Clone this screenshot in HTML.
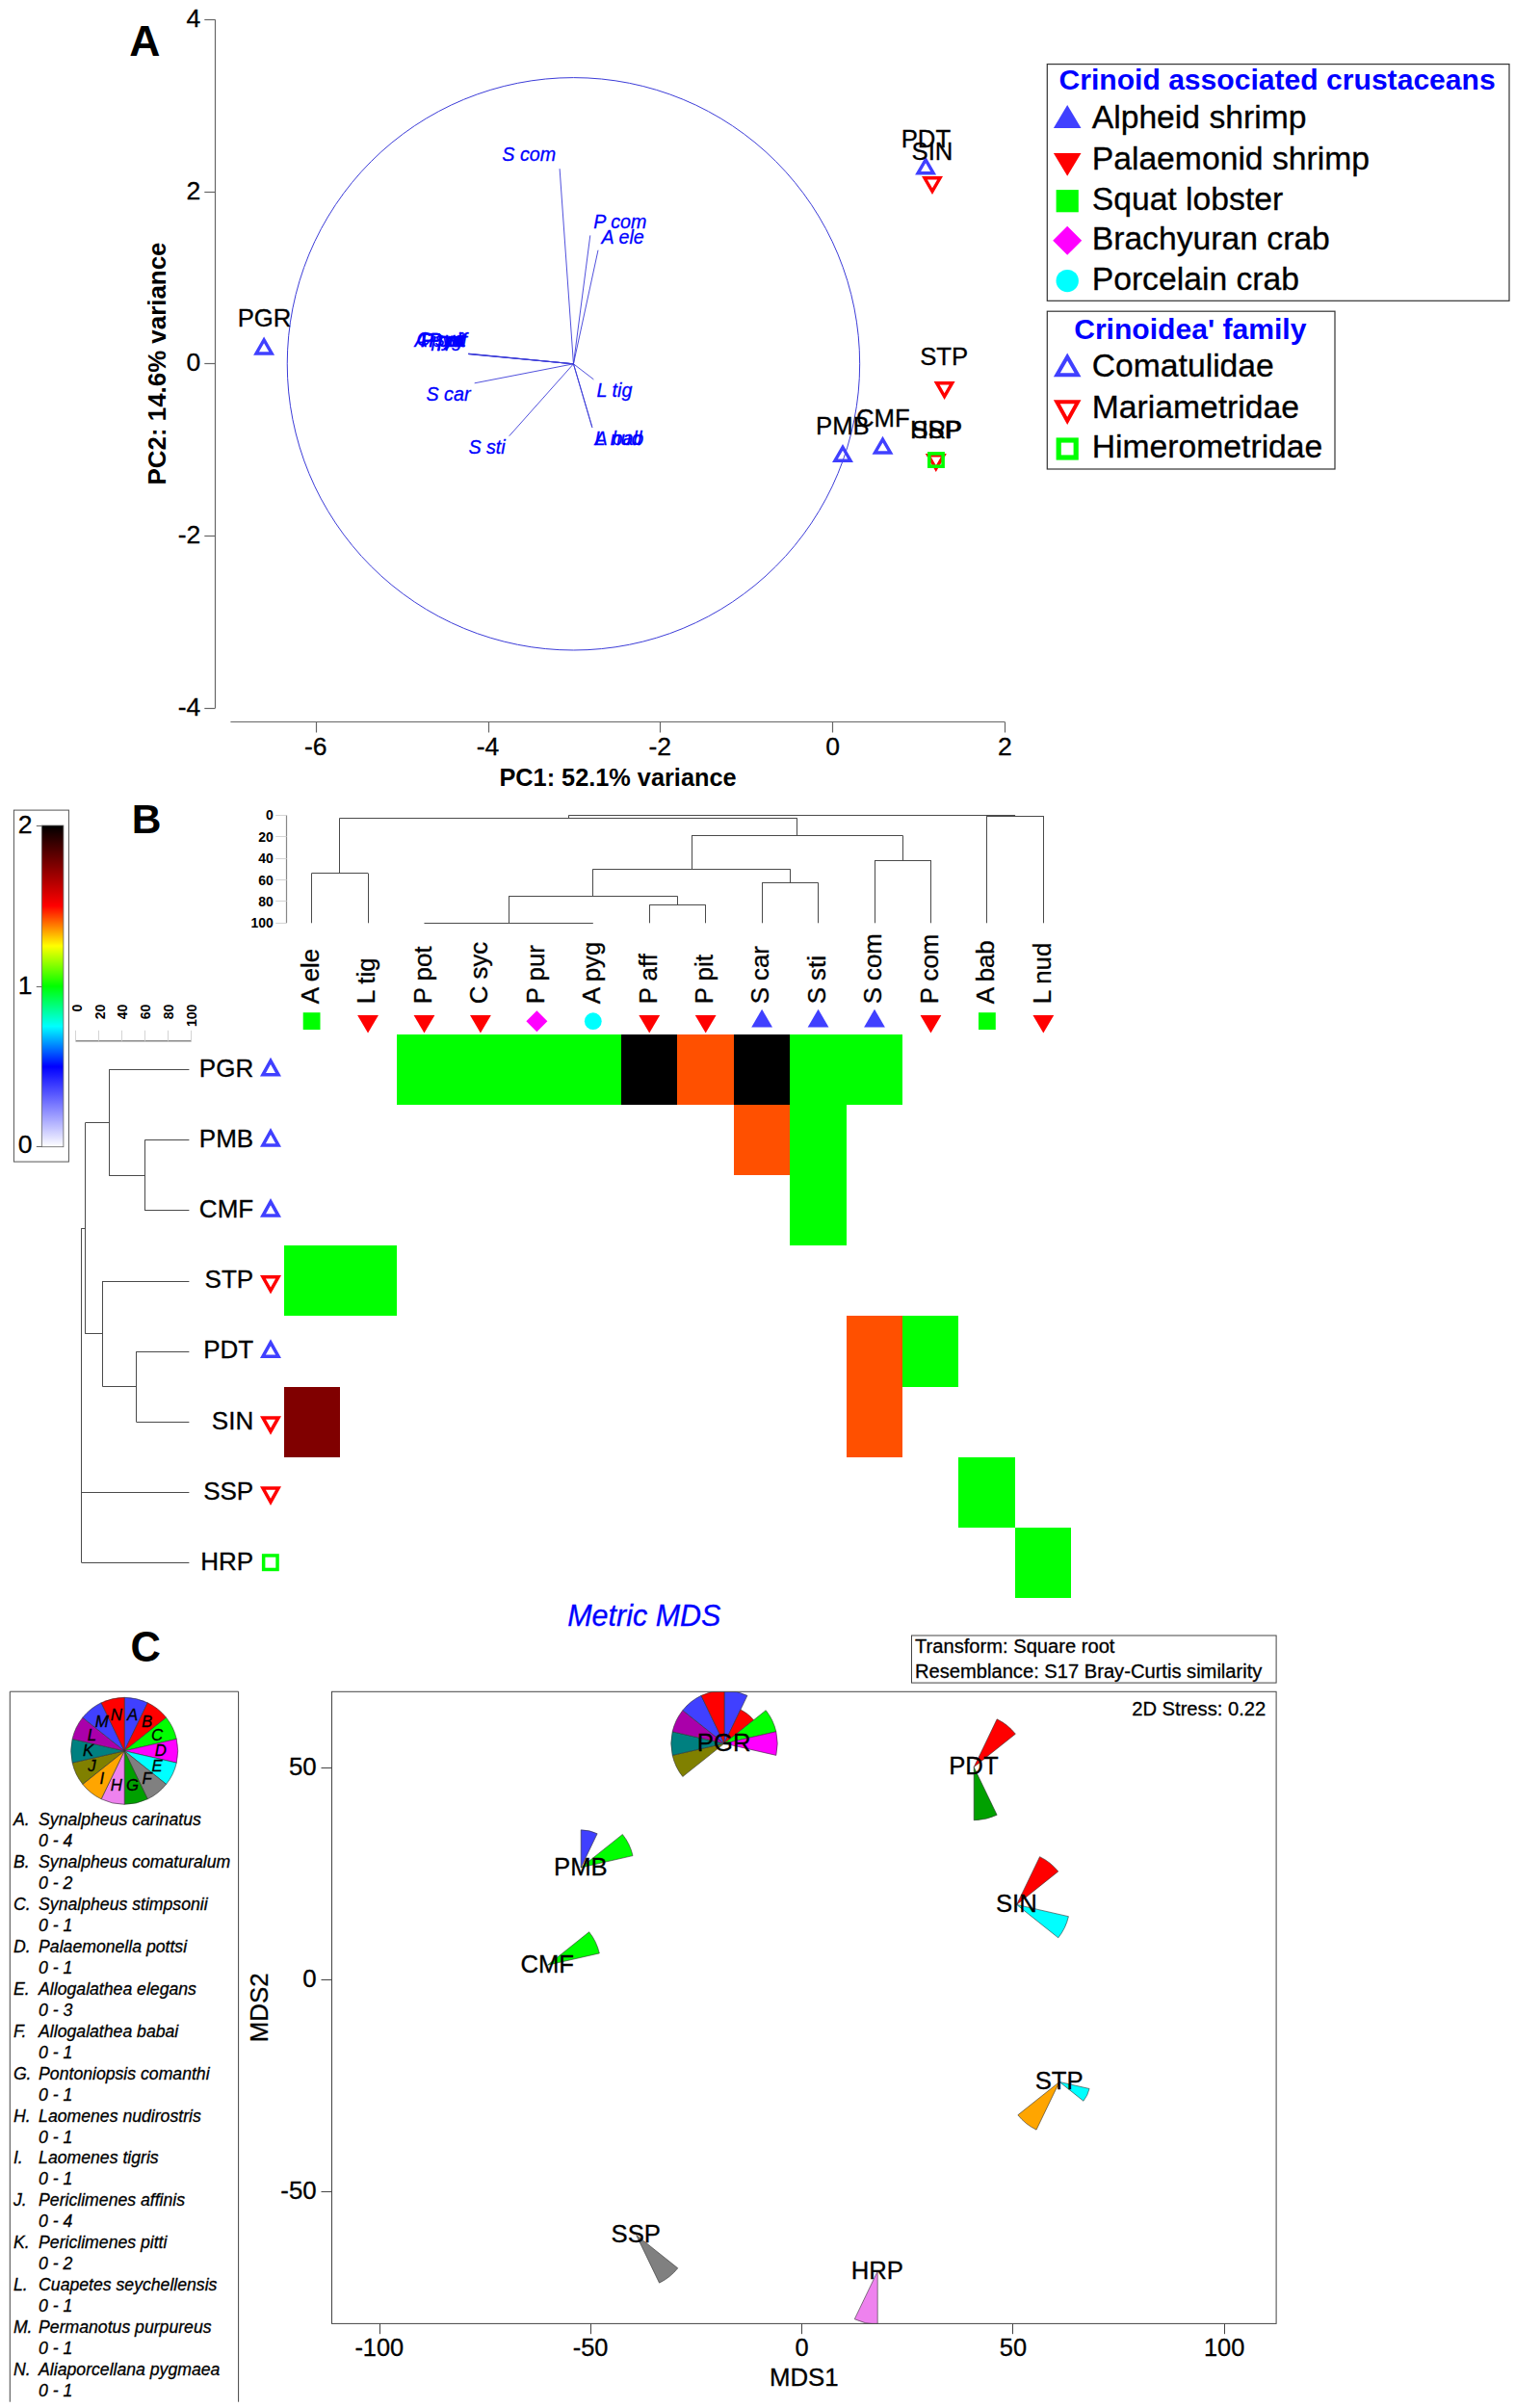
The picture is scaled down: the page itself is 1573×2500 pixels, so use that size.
<!DOCTYPE html>
<html lang="en"><head><meta charset="utf-8"><title>Crinoid associated crustaceans - PCA, heatmap and MDS</title>
<style>html,body{margin:0;padding:0;background:#fff}svg{display:block}text{white-space:pre}</style></head>
<body>
<svg width="1573" height="2500" viewBox="0 0 1573 2500" font-family='"Liberation Sans", Arial, Helvetica, sans-serif'>
<rect width="1573" height="2500" fill="#fff"/>
<g id="panelA">
<text x="134.20" y="57.80" font-size="44.5" font-weight="bold">A</text>
<line x1="223.50" y1="20.48" x2="223.50" y2="735.12" stroke="#666" stroke-width="1.2" />
<line x1="212.30" y1="20.50" x2="223.60" y2="20.50" stroke="#666" stroke-width="1.2" />
<text x="208.30" y="28.08" font-size="26.5" text-anchor="end" stroke="#000" stroke-width="0.3">4</text>
<line x1="212.30" y1="199.50" x2="223.60" y2="199.50" stroke="#666" stroke-width="1.2" />
<text x="208.30" y="206.74" font-size="26.5" text-anchor="end" stroke="#000" stroke-width="0.3">2</text>
<line x1="212.30" y1="377.50" x2="223.60" y2="377.50" stroke="#666" stroke-width="1.2" />
<text x="208.30" y="385.40" font-size="26.5" text-anchor="end" stroke="#000" stroke-width="0.3">0</text>
<line x1="212.30" y1="556.50" x2="223.60" y2="556.50" stroke="#666" stroke-width="1.2" />
<text x="208.30" y="564.06" font-size="26.5" text-anchor="end" stroke="#000" stroke-width="0.3">-2</text>
<line x1="212.30" y1="735.50" x2="223.60" y2="735.50" stroke="#666" stroke-width="1.2" />
<text x="208.30" y="742.72" font-size="26.5" text-anchor="end" stroke="#000" stroke-width="0.3">-4</text>
<line x1="239.40" y1="749.50" x2="1043.40" y2="749.50" stroke="#666" stroke-width="1.2" />
<line x1="328.50" y1="749.60" x2="328.50" y2="760.50" stroke="#666" stroke-width="1.2" />
<text x="327.70" y="783.60" font-size="26.5" text-anchor="middle" stroke="#000" stroke-width="0.3">-6</text>
<line x1="507.50" y1="749.60" x2="507.50" y2="760.50" stroke="#666" stroke-width="1.2" />
<text x="506.50" y="783.60" font-size="26.5" text-anchor="middle" stroke="#000" stroke-width="0.3">-4</text>
<line x1="685.50" y1="749.60" x2="685.50" y2="760.50" stroke="#666" stroke-width="1.2" />
<text x="685.30" y="783.60" font-size="26.5" text-anchor="middle" stroke="#000" stroke-width="0.3">-2</text>
<line x1="864.50" y1="749.60" x2="864.50" y2="760.50" stroke="#666" stroke-width="1.2" />
<text x="864.60" y="783.60" font-size="26.5" text-anchor="middle" stroke="#000" stroke-width="0.3">0</text>
<line x1="1043.50" y1="749.60" x2="1043.50" y2="760.50" stroke="#666" stroke-width="1.2" />
<text x="1043.40" y="783.60" font-size="26.5" text-anchor="middle" stroke="#000" stroke-width="0.3">2</text>
<text x="171.80" y="377.50" font-size="25.9" text-anchor="middle" font-weight="bold" transform="rotate(-90 171.80 377.50)">PC2: 14.6% variance</text>
<text x="641.50" y="815.80" font-size="25.3" text-anchor="middle" font-weight="bold">PC1: 52.1% variance</text>
<circle cx="595.45" cy="377.8" r="297.2" fill="none" stroke="#3c3cd8" stroke-width="1"/>
<line x1="595.45" y1="377.80" x2="581.10" y2="175.20" stroke="#3c3cd8" stroke-width="0.9" />
<line x1="595.45" y1="377.80" x2="612.80" y2="244.40" stroke="#3c3cd8" stroke-width="0.9" />
<line x1="595.45" y1="377.80" x2="621.00" y2="259.70" stroke="#3c3cd8" stroke-width="0.9" />
<line x1="595.45" y1="377.80" x2="486.30" y2="367.30" stroke="#3c3cd8" stroke-width="0.9" />
<line x1="595.45" y1="377.80" x2="492.70" y2="397.80" stroke="#3c3cd8" stroke-width="0.9" />
<line x1="595.45" y1="377.80" x2="528.70" y2="452.70" stroke="#3c3cd8" stroke-width="0.9" />
<line x1="595.45" y1="377.80" x2="616.40" y2="393.90" stroke="#3c3cd8" stroke-width="0.9" />
<line x1="595.45" y1="377.80" x2="614.90" y2="443.80" stroke="#3c3cd8" stroke-width="0.9" />
<line x1="595.45" y1="377.80" x2="614.90" y2="443.80" stroke="#3c3cd8" stroke-width="0.9" />
<line x1="595.45" y1="377.80" x2="486.30" y2="367.50" stroke="#3c3cd8" stroke-width="0.9" />
<line x1="595.45" y1="377.80" x2="486.30" y2="367.70" stroke="#3c3cd8" stroke-width="0.9" />
<line x1="595.45" y1="377.80" x2="486.30" y2="367.10" stroke="#3c3cd8" stroke-width="0.9" />
<text x="521.30" y="167.30" font-size="19.7" font-style="italic" fill="#0000ff" stroke="#0000ff" stroke-width="0.3">S com</text>
<text x="616.30" y="237.30" font-size="19.7" font-style="italic" fill="#0000ff" stroke="#0000ff" stroke-width="0.3">P com</text>
<text x="624.60" y="252.60" font-size="19.7" font-style="italic" fill="#0000ff" stroke="#0000ff" stroke-width="0.3">A ele</text>
<text x="442.50" y="416.00" font-size="19.7" font-style="italic" fill="#0000ff" stroke="#0000ff" stroke-width="0.3">S car</text>
<text x="486.40" y="471.00" font-size="19.7" font-style="italic" fill="#0000ff" stroke="#0000ff" stroke-width="0.3">S sti</text>
<text x="619.50" y="411.70" font-size="19.7" font-style="italic" fill="#0000ff" stroke="#0000ff" stroke-width="0.3">L tig</text>
<text x="617.60" y="461.60" font-size="19.7" font-style="italic" fill="#0000ff" stroke="#0000ff" stroke-width="0.3">A bab</text>
<text x="617.60" y="461.60" font-size="19.7" font-style="italic" fill="#0000ff" stroke="#0000ff" stroke-width="0.3">L nud</text>
<text x="482.40" y="360.00" font-size="19.7" text-anchor="end" font-style="italic" fill="#0000ff" stroke="#0000ff" stroke-width="0.3">P pot</text>
<text x="481.60" y="359.40" font-size="19.7" text-anchor="end" font-style="italic" fill="#0000ff" stroke="#0000ff" stroke-width="0.3">C syc</text>
<text x="483.00" y="359.70" font-size="19.7" text-anchor="end" font-style="italic" fill="#0000ff" stroke="#0000ff" stroke-width="0.3">P pur</text>
<text x="480.00" y="359.90" font-size="19.7" text-anchor="end" font-style="italic" fill="#0000ff" stroke="#0000ff" stroke-width="0.3">A pyg</text>
<text x="483.80" y="359.50" font-size="19.7" text-anchor="end" font-style="italic" fill="#0000ff" stroke="#0000ff" stroke-width="0.3">P pit</text>
<text x="485.00" y="359.70" font-size="19.7" text-anchor="end" font-style="italic" fill="#0000ff" stroke="#0000ff" stroke-width="0.3">P aff</text>
<text x="274.50" y="339.40" font-size="25.7" text-anchor="middle" stroke="#000" stroke-width="0.3">PGR</text>
<path d="M266.04 367.00L282.16 367.00L274.10 353.01Z" stroke="#4040ff" stroke-width="3.4" fill="none" stroke-linejoin="miter"/>
<text x="961.40" y="152.90" font-size="25.7" text-anchor="middle" stroke="#000" stroke-width="0.3">PDT</text>
<path d="M953.06 179.80L969.14 179.80L961.10 165.98Z" stroke="#4040ff" stroke-width="3.4" fill="none" stroke-linejoin="miter"/>
<path d="M959.96 184.80L976.04 184.80L968.00 198.62Z" stroke="#ff0000" stroke-width="3.4" fill="none" stroke-linejoin="miter"/>
<text x="968.00" y="166.30" font-size="25.7" text-anchor="middle" stroke="#000" stroke-width="0.3">SIN</text>
<text x="980.20" y="379.30" font-size="25.7" text-anchor="middle" stroke="#000" stroke-width="0.3">STP</text>
<path d="M972.55 397.70L988.65 397.70L980.60 411.61Z" stroke="#ff0000" stroke-width="3.4" fill="none" stroke-linejoin="miter"/>
<text x="874.90" y="451.10" font-size="25.7" text-anchor="middle" stroke="#000" stroke-width="0.3">PMB</text>
<path d="M866.96 478.20L883.04 478.20L875.00 464.38Z" stroke="#4040ff" stroke-width="3.4" fill="none" stroke-linejoin="miter"/>
<text x="916.80" y="442.80" font-size="25.7" text-anchor="middle" stroke="#000" stroke-width="0.3">CMF</text>
<path d="M908.46 470.00L924.54 470.00L916.50 456.18Z" stroke="#4040ff" stroke-width="3.4" fill="none" stroke-linejoin="miter"/>
<path d="M963.75 472.70L979.85 472.70L971.80 486.61Z" stroke="#ff0000" stroke-width="3.4" fill="none" stroke-linejoin="miter"/>
<rect x="964.80" y="470.90" width="14.30" height="13.30" fill="none" stroke="#00ff00" stroke-width="3.6" />
<text x="972.10" y="455.20" font-size="25.7" text-anchor="middle" stroke="#000" stroke-width="0.3">SSP</text>
<text x="972.10" y="455.20" font-size="25.7" text-anchor="middle" stroke="#000" stroke-width="0.3">HRP</text>
<rect x="1087.30" y="66.60" width="479.70" height="245.70" fill="none" stroke="#333" stroke-width="1.2" />
<text x="1326.10" y="93.20" font-size="30.1" text-anchor="middle" font-weight="bold" fill="#0000ff">Crinoid associated crustaceans</text>
<text x="1133.70" y="133.00" font-size="33.7" stroke="#000" stroke-width="0.3">Alpheid shrimp</text>
<text x="1133.70" y="175.50" font-size="33.7" stroke="#000" stroke-width="0.3">Palaemonid shrimp</text>
<text x="1133.70" y="217.70" font-size="33.7" stroke="#000" stroke-width="0.3">Squat lobster</text>
<text x="1133.70" y="259.20" font-size="33.7" stroke="#000" stroke-width="0.3">Brachyuran crab</text>
<text x="1133.70" y="300.70" font-size="33.7" stroke="#000" stroke-width="0.3">Porcelain crab</text>
<path d="M1093.90 133.00L1122.50 133.00L1108.20 109.10Z" stroke="none" stroke-width="1" fill="#4040ff" />
<path d="M1093.90 158.90L1122.50 158.90L1108.20 182.80Z" stroke="none" stroke-width="1" fill="#ff0000" />
<rect x="1096.60" y="197.10" width="23.20" height="23.20" fill="#00ff00" stroke="none" stroke-width="1" />
<path d="M1093.20 249.80L1108.20 234.80L1123.20 249.80L1108.20 264.80Z" stroke="none" stroke-width="1" fill="#ff00ff" />
<circle cx="1108.2" cy="291.6" r="11.7" fill="#00ffff"/>
<rect x="1087.30" y="323.20" width="298.70" height="163.80" fill="none" stroke="#333" stroke-width="1.2" />
<text x="1235.80" y="351.50" font-size="30.1" text-anchor="middle" font-weight="bold" fill="#0000ff">Crinoidea' family</text>
<text x="1133.70" y="391.30" font-size="33.7" stroke="#000" stroke-width="0.3">Comatulidae</text>
<text x="1133.70" y="433.50" font-size="33.7" stroke="#000" stroke-width="0.3">Mariametridae</text>
<text x="1133.70" y="475.00" font-size="33.7" stroke="#000" stroke-width="0.3">Himerometridae</text>
<path d="M1097.35 389.30L1119.05 389.30L1108.20 370.42Z" stroke="#4040ff" stroke-width="4" fill="none" stroke-linejoin="miter"/>
<path d="M1097.29 417.20L1119.11 417.20L1108.20 436.96Z" stroke="#ff0000" stroke-width="4" fill="none" stroke-linejoin="miter"/>
<rect x="1099.20" y="457.00" width="18.00" height="18.00" fill="none" stroke="#00ff00" stroke-width="5.2" />
</g>
<g id="panelB">
<text x="136.80" y="865.40" font-size="42.5" font-weight="bold">B</text>
<defs><linearGradient id="cb" x1="0" y1="0" x2="0" y2="1"><stop offset="0" stop-color="#000000"/><stop offset="0.25" stop-color="#ff0000"/><stop offset="0.375" stop-color="#ffff00"/><stop offset="0.5" stop-color="#00ff00"/><stop offset="0.625" stop-color="#00ffff"/><stop offset="0.75" stop-color="#0000ff"/><stop offset="1" stop-color="#ffffff"/></linearGradient></defs>
<rect x="14.40" y="841.10" width="57.00" height="365.00" fill="none" stroke="#555" stroke-width="1" />
<rect x="43.30" y="857.00" width="22.60" height="333.70" fill="url(#cb)" stroke="#666" stroke-width="0.8" />
<line x1="37.80" y1="857.50" x2="43.30" y2="857.50" stroke="#666" stroke-width="1" />
<text x="33.60" y="864.60" font-size="26.5" text-anchor="end" stroke="#000" stroke-width="0.3">2</text>
<line x1="37.80" y1="1024.50" x2="43.30" y2="1024.50" stroke="#666" stroke-width="1" />
<text x="33.60" y="1031.60" font-size="26.5" text-anchor="end" stroke="#000" stroke-width="0.3">1</text>
<line x1="37.80" y1="1190.50" x2="43.30" y2="1190.50" stroke="#666" stroke-width="1" />
<text x="33.60" y="1197.30" font-size="26.5" text-anchor="end" stroke="#000" stroke-width="0.3">0</text>
<rect x="412.00" y="1074.00" width="58.00" height="73.00" fill="#00ff00" stroke="none" stroke-width="1" shape-rendering="crispEdges"/>
<rect x="470.00" y="1074.00" width="58.00" height="73.00" fill="#00ff00" stroke="none" stroke-width="1" shape-rendering="crispEdges"/>
<rect x="528.00" y="1074.00" width="59.00" height="73.00" fill="#00ff00" stroke="none" stroke-width="1" shape-rendering="crispEdges"/>
<rect x="587.00" y="1074.00" width="58.00" height="73.00" fill="#00ff00" stroke="none" stroke-width="1" shape-rendering="crispEdges"/>
<rect x="645.00" y="1074.00" width="58.00" height="73.00" fill="#000000" stroke="none" stroke-width="1" shape-rendering="crispEdges"/>
<rect x="703.00" y="1074.00" width="59.00" height="73.00" fill="#ff5000" stroke="none" stroke-width="1" shape-rendering="crispEdges"/>
<rect x="762.00" y="1074.00" width="58.00" height="73.00" fill="#000000" stroke="none" stroke-width="1" shape-rendering="crispEdges"/>
<rect x="820.00" y="1074.00" width="59.00" height="73.00" fill="#00ff00" stroke="none" stroke-width="1" shape-rendering="crispEdges"/>
<rect x="879.00" y="1074.00" width="58.00" height="73.00" fill="#00ff00" stroke="none" stroke-width="1" shape-rendering="crispEdges"/>
<rect x="762.00" y="1147.00" width="58.00" height="73.00" fill="#ff5000" stroke="none" stroke-width="1" shape-rendering="crispEdges"/>
<rect x="820.00" y="1147.00" width="59.00" height="73.00" fill="#00ff00" stroke="none" stroke-width="1" shape-rendering="crispEdges"/>
<rect x="820.00" y="1220.00" width="59.00" height="73.00" fill="#00ff00" stroke="none" stroke-width="1" shape-rendering="crispEdges"/>
<rect x="295.00" y="1293.00" width="58.00" height="73.00" fill="#00ff00" stroke="none" stroke-width="1" shape-rendering="crispEdges"/>
<rect x="353.00" y="1293.00" width="59.00" height="73.00" fill="#00ff00" stroke="none" stroke-width="1" shape-rendering="crispEdges"/>
<rect x="879.00" y="1366.00" width="58.00" height="74.00" fill="#ff5000" stroke="none" stroke-width="1" shape-rendering="crispEdges"/>
<rect x="937.00" y="1366.00" width="58.00" height="74.00" fill="#00ff00" stroke="none" stroke-width="1" shape-rendering="crispEdges"/>
<rect x="295.00" y="1440.00" width="58.00" height="73.00" fill="#800000" stroke="none" stroke-width="1" shape-rendering="crispEdges"/>
<rect x="879.00" y="1440.00" width="58.00" height="73.00" fill="#ff5000" stroke="none" stroke-width="1" shape-rendering="crispEdges"/>
<rect x="995.00" y="1513.00" width="59.00" height="73.00" fill="#00ff00" stroke="none" stroke-width="1" shape-rendering="crispEdges"/>
<rect x="1054.00" y="1586.00" width="58.00" height="73.00" fill="#00ff00" stroke="none" stroke-width="1" shape-rendering="crispEdges"/>
<line x1="297.50" y1="846.30" x2="297.50" y2="958.30" stroke="#888" stroke-width="1.2" />
<line x1="286.20" y1="846.50" x2="297.60" y2="846.50" stroke="#d4d4d4" stroke-width="1" />
<text x="283.80" y="851.30" font-size="14" text-anchor="end" font-weight="bold">0</text>
<line x1="286.20" y1="868.50" x2="297.60" y2="868.50" stroke="#d4d4d4" stroke-width="1" />
<text x="283.80" y="873.70" font-size="14" text-anchor="end" font-weight="bold">20</text>
<line x1="286.20" y1="891.50" x2="297.60" y2="891.50" stroke="#d4d4d4" stroke-width="1" />
<text x="283.80" y="896.10" font-size="14" text-anchor="end" font-weight="bold">40</text>
<line x1="286.20" y1="913.50" x2="297.60" y2="913.50" stroke="#d4d4d4" stroke-width="1" />
<text x="283.80" y="918.50" font-size="14" text-anchor="end" font-weight="bold">60</text>
<line x1="286.20" y1="935.50" x2="297.60" y2="935.50" stroke="#d4d4d4" stroke-width="1" />
<text x="283.80" y="940.90" font-size="14" text-anchor="end" font-weight="bold">80</text>
<line x1="286.20" y1="958.50" x2="297.60" y2="958.50" stroke="#d4d4d4" stroke-width="1" />
<text x="283.80" y="963.30" font-size="14" text-anchor="end" font-weight="bold">100</text>
<line x1="323.50" y1="958.30" x2="323.50" y2="906.60" stroke="#4a4a4a" stroke-width="1" />
<line x1="382.50" y1="958.30" x2="382.50" y2="906.60" stroke="#4a4a4a" stroke-width="1" />
<line x1="323.60" y1="906.50" x2="382.04" y2="906.50" stroke="#4a4a4a" stroke-width="1" />
<line x1="440.48" y1="958.50" x2="615.80" y2="958.50" stroke="#4a4a4a" stroke-width="1" />
<line x1="674.50" y1="958.30" x2="674.50" y2="939.30" stroke="#4a4a4a" stroke-width="1" />
<line x1="732.50" y1="958.30" x2="732.50" y2="939.30" stroke="#4a4a4a" stroke-width="1" />
<line x1="674.24" y1="939.50" x2="732.68" y2="939.50" stroke="#4a4a4a" stroke-width="1" />
<line x1="528.50" y1="958.30" x2="528.50" y2="930.40" stroke="#4a4a4a" stroke-width="1" />
<line x1="703.50" y1="939.30" x2="703.50" y2="930.40" stroke="#4a4a4a" stroke-width="1" />
<line x1="528.14" y1="930.50" x2="703.46" y2="930.50" stroke="#4a4a4a" stroke-width="1" />
<line x1="791.50" y1="958.30" x2="791.50" y2="916.40" stroke="#4a4a4a" stroke-width="1" />
<line x1="849.50" y1="958.30" x2="849.50" y2="916.40" stroke="#4a4a4a" stroke-width="1" />
<line x1="791.12" y1="916.50" x2="849.56" y2="916.50" stroke="#4a4a4a" stroke-width="1" />
<line x1="615.50" y1="930.40" x2="615.50" y2="902.20" stroke="#4a4a4a" stroke-width="1" />
<line x1="820.50" y1="916.40" x2="820.50" y2="902.20" stroke="#4a4a4a" stroke-width="1" />
<line x1="615.80" y1="902.50" x2="820.34" y2="902.50" stroke="#4a4a4a" stroke-width="1" />
<line x1="908.50" y1="958.30" x2="908.50" y2="893.00" stroke="#4a4a4a" stroke-width="1" />
<line x1="966.50" y1="958.30" x2="966.50" y2="893.00" stroke="#4a4a4a" stroke-width="1" />
<line x1="908.00" y1="893.50" x2="966.44" y2="893.50" stroke="#4a4a4a" stroke-width="1" />
<line x1="718.50" y1="902.20" x2="718.50" y2="867.40" stroke="#4a4a4a" stroke-width="1" />
<line x1="937.50" y1="893.00" x2="937.50" y2="867.40" stroke="#4a4a4a" stroke-width="1" />
<line x1="718.07" y1="867.50" x2="937.22" y2="867.50" stroke="#4a4a4a" stroke-width="1" />
<line x1="352.50" y1="906.60" x2="352.50" y2="849.30" stroke="#4a4a4a" stroke-width="1" />
<line x1="827.50" y1="867.40" x2="827.50" y2="849.30" stroke="#4a4a4a" stroke-width="1" />
<line x1="352.82" y1="849.50" x2="827.64" y2="849.50" stroke="#4a4a4a" stroke-width="1" />
<line x1="1024.50" y1="958.30" x2="1024.50" y2="847.10" stroke="#4a4a4a" stroke-width="1" />
<line x1="1083.50" y1="958.30" x2="1083.50" y2="847.10" stroke="#4a4a4a" stroke-width="1" />
<line x1="1024.88" y1="847.50" x2="1083.32" y2="847.50" stroke="#4a4a4a" stroke-width="1" />
<line x1="590.50" y1="849.30" x2="590.50" y2="846.80" stroke="#4a4a4a" stroke-width="1" />
<line x1="590.23" y1="846.50" x2="1054.10" y2="846.50" stroke="#4a4a4a" stroke-width="1" />
<text x="330.90" y="1042.30" font-size="25.8" transform="rotate(-90 330.90 1042.30)" stroke="#000" stroke-width="0.3">A ele</text>
<rect x="314.70" y="1051.20" width="17.80" height="17.80" fill="#00ff00" stroke="none" stroke-width="1" />
<text x="389.34" y="1042.30" font-size="25.8" transform="rotate(-90 389.34 1042.30)" stroke="#000" stroke-width="0.3">L tig</text>
<path d="M371.14 1054.10L392.94 1054.10L382.04 1072.60Z" stroke="none" stroke-width="1" fill="#ff0000" />
<text x="447.78" y="1042.30" font-size="25.8" transform="rotate(-90 447.78 1042.30)" stroke="#000" stroke-width="0.3">P pot</text>
<path d="M429.58 1054.10L451.38 1054.10L440.48 1072.60Z" stroke="none" stroke-width="1" fill="#ff0000" />
<text x="506.22" y="1042.30" font-size="25.8" transform="rotate(-90 506.22 1042.30)" stroke="#000" stroke-width="0.3">C syc</text>
<path d="M488.02 1054.10L509.82 1054.10L498.92 1072.60Z" stroke="none" stroke-width="1" fill="#ff0000" />
<text x="564.66" y="1042.30" font-size="25.8" transform="rotate(-90 564.66 1042.30)" stroke="#000" stroke-width="0.3">P pur</text>
<path d="M546.36 1060.20L557.36 1049.20L568.36 1060.20L557.36 1071.20Z" stroke="none" stroke-width="1" fill="#ff00ff" />
<text x="623.10" y="1042.30" font-size="25.8" transform="rotate(-90 623.10 1042.30)" stroke="#000" stroke-width="0.3">A pyg</text>
<circle cx="615.80" cy="1060.2" r="8.9" fill="#00ffff"/>
<text x="681.54" y="1042.30" font-size="25.8" transform="rotate(-90 681.54 1042.30)" stroke="#000" stroke-width="0.3">P aff</text>
<path d="M663.34 1054.10L685.14 1054.10L674.24 1072.60Z" stroke="none" stroke-width="1" fill="#ff0000" />
<text x="739.98" y="1042.30" font-size="25.8" transform="rotate(-90 739.98 1042.30)" stroke="#000" stroke-width="0.3">P pit</text>
<path d="M721.78 1054.10L743.58 1054.10L732.68 1072.60Z" stroke="none" stroke-width="1" fill="#ff0000" />
<text x="798.42" y="1042.30" font-size="25.8" transform="rotate(-90 798.42 1042.30)" stroke="#000" stroke-width="0.3">S car</text>
<path d="M780.22 1066.60L802.02 1066.60L791.12 1047.80Z" stroke="none" stroke-width="1" fill="#4040ff" />
<text x="856.86" y="1042.30" font-size="25.8" transform="rotate(-90 856.86 1042.30)" stroke="#000" stroke-width="0.3">S sti</text>
<path d="M838.66 1066.60L860.46 1066.60L849.56 1047.80Z" stroke="none" stroke-width="1" fill="#4040ff" />
<text x="915.30" y="1042.30" font-size="25.8" transform="rotate(-90 915.30 1042.30)" stroke="#000" stroke-width="0.3">S com</text>
<path d="M897.10 1066.60L918.90 1066.60L908.00 1047.80Z" stroke="none" stroke-width="1" fill="#4040ff" />
<text x="973.74" y="1042.30" font-size="25.8" transform="rotate(-90 973.74 1042.30)" stroke="#000" stroke-width="0.3">P com</text>
<path d="M955.54 1054.10L977.34 1054.10L966.44 1072.60Z" stroke="none" stroke-width="1" fill="#ff0000" />
<text x="1032.18" y="1042.30" font-size="25.8" transform="rotate(-90 1032.18 1042.30)" stroke="#000" stroke-width="0.3">A bab</text>
<rect x="1015.98" y="1051.20" width="17.80" height="17.80" fill="#00ff00" stroke="none" stroke-width="1" />
<text x="1090.62" y="1042.30" font-size="25.8" transform="rotate(-90 1090.62 1042.30)" stroke="#000" stroke-width="0.3">L nud</text>
<path d="M1072.42 1054.10L1094.22 1054.10L1083.32 1072.60Z" stroke="none" stroke-width="1" fill="#ff0000" />
<line x1="78.40" y1="1080.70" x2="198.70" y2="1080.70" stroke="#888" stroke-width="1.6" />
<line x1="78.50" y1="1069.80" x2="78.50" y2="1080.70" stroke="#d4d4d4" stroke-width="1" />
<text x="84.70" y="1042.60" font-size="14" text-anchor="end" font-weight="bold" transform="rotate(-90 84.70 1042.60)">0</text>
<line x1="102.50" y1="1069.80" x2="102.50" y2="1080.70" stroke="#d4d4d4" stroke-width="1" />
<text x="108.56" y="1042.60" font-size="14" text-anchor="end" font-weight="bold" transform="rotate(-90 108.56 1042.60)">20</text>
<line x1="126.50" y1="1069.80" x2="126.50" y2="1080.70" stroke="#d4d4d4" stroke-width="1" />
<text x="132.42" y="1042.60" font-size="14" text-anchor="end" font-weight="bold" transform="rotate(-90 132.42 1042.60)">40</text>
<line x1="150.50" y1="1069.80" x2="150.50" y2="1080.70" stroke="#d4d4d4" stroke-width="1" />
<text x="156.28" y="1042.60" font-size="14" text-anchor="end" font-weight="bold" transform="rotate(-90 156.28 1042.60)">60</text>
<line x1="174.50" y1="1069.80" x2="174.50" y2="1080.70" stroke="#d4d4d4" stroke-width="1" />
<text x="180.14" y="1042.60" font-size="14" text-anchor="end" font-weight="bold" transform="rotate(-90 180.14 1042.60)">80</text>
<line x1="198.50" y1="1069.80" x2="198.50" y2="1080.70" stroke="#d4d4d4" stroke-width="1" />
<text x="204.00" y="1042.60" font-size="14" text-anchor="end" font-weight="bold" transform="rotate(-90 204.00 1042.60)">100</text>
<line x1="150.20" y1="1183.50" x2="196.40" y2="1183.50" stroke="#4a4a4a" stroke-width="1" />
<line x1="150.20" y1="1256.50" x2="196.40" y2="1256.50" stroke="#4a4a4a" stroke-width="1" />
<line x1="150.50" y1="1183.80" x2="150.50" y2="1256.90" stroke="#4a4a4a" stroke-width="1" />
<line x1="113.10" y1="1110.50" x2="196.40" y2="1110.50" stroke="#4a4a4a" stroke-width="1" />
<line x1="113.10" y1="1220.50" x2="150.20" y2="1220.50" stroke="#4a4a4a" stroke-width="1" />
<line x1="113.50" y1="1110.70" x2="113.50" y2="1220.35" stroke="#4a4a4a" stroke-width="1" />
<line x1="141.50" y1="1403.50" x2="196.40" y2="1403.50" stroke="#4a4a4a" stroke-width="1" />
<line x1="141.50" y1="1476.50" x2="196.40" y2="1476.50" stroke="#4a4a4a" stroke-width="1" />
<line x1="141.50" y1="1403.10" x2="141.50" y2="1476.20" stroke="#4a4a4a" stroke-width="1" />
<line x1="106.60" y1="1330.50" x2="196.40" y2="1330.50" stroke="#4a4a4a" stroke-width="1" />
<line x1="106.60" y1="1439.50" x2="141.50" y2="1439.50" stroke="#4a4a4a" stroke-width="1" />
<line x1="106.50" y1="1330.00" x2="106.50" y2="1439.65" stroke="#4a4a4a" stroke-width="1" />
<line x1="88.70" y1="1165.50" x2="113.10" y2="1165.50" stroke="#4a4a4a" stroke-width="1" />
<line x1="88.70" y1="1384.50" x2="106.60" y2="1384.50" stroke="#4a4a4a" stroke-width="1" />
<line x1="88.50" y1="1165.53" x2="88.50" y2="1384.83" stroke="#4a4a4a" stroke-width="1" />
<line x1="84.50" y1="1275.50" x2="88.70" y2="1275.50" stroke="#4a4a4a" stroke-width="1" />
<line x1="84.50" y1="1549.50" x2="196.40" y2="1549.50" stroke="#4a4a4a" stroke-width="1" />
<line x1="84.50" y1="1275.18" x2="84.50" y2="1549.30" stroke="#4a4a4a" stroke-width="1" />
<line x1="84.50" y1="1412.24" x2="84.50" y2="1622.40" stroke="#4a4a4a" stroke-width="1" />
<line x1="84.70" y1="1622.50" x2="196.40" y2="1622.50" stroke="#4a4a4a" stroke-width="1" />
<text x="263.20" y="1118.00" font-size="26.0" text-anchor="end" stroke="#000" stroke-width="0.3">PGR</text>
<path d="M272.97 1115.85L289.03 1115.85L281.00 1101.40Z" stroke="#4040ff" stroke-width="3.5" fill="none" stroke-linejoin="miter"/>
<text x="263.20" y="1191.10" font-size="26.0" text-anchor="end" stroke="#000" stroke-width="0.3">PMB</text>
<path d="M272.97 1188.95L289.03 1188.95L281.00 1174.50Z" stroke="#4040ff" stroke-width="3.5" fill="none" stroke-linejoin="miter"/>
<text x="263.20" y="1264.20" font-size="26.0" text-anchor="end" stroke="#000" stroke-width="0.3">CMF</text>
<path d="M272.97 1262.05L289.03 1262.05L281.00 1247.60Z" stroke="#4040ff" stroke-width="3.5" fill="none" stroke-linejoin="miter"/>
<text x="263.20" y="1337.30" font-size="26.0" text-anchor="end" stroke="#000" stroke-width="0.3">STP</text>
<path d="M272.99 1325.75L289.01 1325.75L281.00 1340.02Z" stroke="#ff0000" stroke-width="3.5" fill="none" stroke-linejoin="miter"/>
<text x="263.20" y="1410.40" font-size="26.0" text-anchor="end" stroke="#000" stroke-width="0.3">PDT</text>
<path d="M272.97 1408.25L289.03 1408.25L281.00 1393.80Z" stroke="#4040ff" stroke-width="3.5" fill="none" stroke-linejoin="miter"/>
<text x="263.20" y="1483.50" font-size="26.0" text-anchor="end" stroke="#000" stroke-width="0.3">SIN</text>
<path d="M272.99 1471.95L289.01 1471.95L281.00 1486.22Z" stroke="#ff0000" stroke-width="3.5" fill="none" stroke-linejoin="miter"/>
<text x="263.20" y="1556.60" font-size="26.0" text-anchor="end" stroke="#000" stroke-width="0.3">SSP</text>
<path d="M272.99 1545.05L289.01 1545.05L281.00 1559.32Z" stroke="#ff0000" stroke-width="3.5" fill="none" stroke-linejoin="miter"/>
<text x="263.20" y="1629.70" font-size="26.0" text-anchor="end" stroke="#000" stroke-width="0.3">HRP</text>
<rect x="273.65" y="1614.95" width="14.40" height="14.50" fill="none" stroke="#00ff00" stroke-width="3.5" />
</g>
<g id="panelC">
<text x="135.40" y="1724.60" font-size="43.5" font-weight="bold">C</text>
<text x="668.80" y="1687.50" font-size="30.5" text-anchor="middle" font-style="italic" fill="#0000ff" stroke="#0000ff" stroke-width="0.3">Metric MDS</text>
<rect x="946.50" y="1698.00" width="378.60" height="49.10" fill="none" stroke="#444" stroke-width="1" />
<text x="950.00" y="1716.10" font-size="20.15" stroke="#000" stroke-width="0.3">Transform: Square root</text>
<text x="950.00" y="1741.90" font-size="20.15" stroke="#000" stroke-width="0.3">Resemblance: S17 Bray-Curtis similarity</text>
<clipPath id="pc"><rect x="344.5" y="1756.3" width="980.5999999999999" height="656.1000000000001"/></clipPath>
<line x1="394.50" y1="2412.40" x2="394.50" y2="2423.20" stroke="#444" stroke-width="1" />
<text x="393.80" y="2446.00" font-size="25.4" text-anchor="middle" stroke="#000" stroke-width="0.3">-100</text>
<line x1="613.50" y1="2412.40" x2="613.50" y2="2423.20" stroke="#444" stroke-width="1" />
<text x="613.10" y="2446.00" font-size="25.4" text-anchor="middle" stroke="#000" stroke-width="0.3">-50</text>
<line x1="832.50" y1="2412.40" x2="832.50" y2="2423.20" stroke="#444" stroke-width="1" />
<text x="832.60" y="2446.00" font-size="25.4" text-anchor="middle" stroke="#000" stroke-width="0.3">0</text>
<line x1="1051.50" y1="2412.40" x2="1051.50" y2="2423.20" stroke="#444" stroke-width="1" />
<text x="1051.90" y="2446.00" font-size="25.4" text-anchor="middle" stroke="#000" stroke-width="0.3">50</text>
<line x1="1271.50" y1="2412.40" x2="1271.50" y2="2423.20" stroke="#444" stroke-width="1" />
<text x="1271.20" y="2446.00" font-size="25.4" text-anchor="middle" stroke="#000" stroke-width="0.3">100</text>
<line x1="333.50" y1="1835.50" x2="344.50" y2="1835.50" stroke="#444" stroke-width="1" />
<text x="328.60" y="1842.50" font-size="25.8" text-anchor="end" stroke="#000" stroke-width="0.3">50</text>
<line x1="333.50" y1="2055.50" x2="344.50" y2="2055.50" stroke="#444" stroke-width="1" />
<text x="328.60" y="2062.50" font-size="25.8" text-anchor="end" stroke="#000" stroke-width="0.3">0</text>
<line x1="333.50" y1="2275.50" x2="344.50" y2="2275.50" stroke="#444" stroke-width="1" />
<text x="328.60" y="2282.50" font-size="25.8" text-anchor="end" stroke="#000" stroke-width="0.3">-50</text>
<text x="834.80" y="2476.80" font-size="25.8" text-anchor="middle" stroke="#000" stroke-width="0.3">MDS1</text>
<text x="278.30" y="2084.30" font-size="25.8" text-anchor="middle" transform="rotate(-90 278.30 2084.30)" stroke="#000" stroke-width="0.3">MDS2</text>
<text x="1314.30" y="1780.60" font-size="20.2" text-anchor="end" stroke="#000" stroke-width="0.3">2D Stress: 0.22</text>
<g clip-path="url(#pc)">
<path d="M752.00 1810.10L752.00 1754.90A55.20 55.20 0 0 1 775.95 1760.37Z" stroke="#333" stroke-width="0.6" fill="#4040ff" stroke-linejoin="round" />
<path d="M752.00 1810.10L768.94 1774.93A39.03 39.03 0 0 1 782.52 1785.76Z" stroke="#333" stroke-width="0.6" fill="#ff0000" stroke-linejoin="round" />
<path d="M752.00 1810.10L795.16 1775.68A55.20 55.20 0 0 1 805.82 1797.82Z" stroke="#333" stroke-width="0.6" fill="#00ff00" stroke-linejoin="round" />
<path d="M752.00 1810.10L805.82 1797.82A55.20 55.20 0 0 1 805.82 1822.38Z" stroke="#333" stroke-width="0.6" fill="#ff00ff" stroke-linejoin="round" />
<path d="M752.00 1810.10L708.84 1844.52A55.20 55.20 0 0 1 698.18 1822.38Z" stroke="#333" stroke-width="0.6" fill="#808000" stroke-linejoin="round" />
<path d="M752.00 1810.10L698.18 1822.38A55.20 55.20 0 0 1 698.18 1797.82Z" stroke="#333" stroke-width="0.6" fill="#008080" stroke-linejoin="round" />
<path d="M752.00 1810.10L698.18 1797.82A55.20 55.20 0 0 1 708.84 1775.68Z" stroke="#333" stroke-width="0.6" fill="#aa00aa" stroke-linejoin="round" />
<path d="M752.00 1810.10L708.84 1775.68A55.20 55.20 0 0 1 728.05 1760.37Z" stroke="#333" stroke-width="0.6" fill="#4040ff" stroke-linejoin="round" />
<path d="M752.00 1810.10L728.05 1760.37A55.20 55.20 0 0 1 752.00 1754.90Z" stroke="#333" stroke-width="0.6" fill="#ff0000" stroke-linejoin="round" />
<path d="M603.20 1938.90L603.20 1899.87A39.03 39.03 0 0 1 620.14 1903.73Z" stroke="#333" stroke-width="0.6" fill="#4040ff" stroke-linejoin="round" />
<path d="M603.20 1938.90L646.36 1904.48A55.20 55.20 0 0 1 657.02 1926.62Z" stroke="#333" stroke-width="0.6" fill="#00ff00" stroke-linejoin="round" />
<path d="M568.50 2040.20L611.66 2005.78A55.20 55.20 0 0 1 622.32 2027.92Z" stroke="#333" stroke-width="0.6" fill="#00ff00" stroke-linejoin="round" />
<path d="M1011.20 1834.60L1035.15 1784.87A55.20 55.20 0 0 1 1054.36 1800.18Z" stroke="#333" stroke-width="0.6" fill="#ff0000" stroke-linejoin="round" />
<path d="M1011.20 1834.60L1035.15 1884.33A55.20 55.20 0 0 1 1011.20 1889.80Z" stroke="#333" stroke-width="0.6" fill="#00a000" stroke-linejoin="round" />
<path d="M1055.60 1977.40L1079.55 1927.67A55.20 55.20 0 0 1 1098.76 1942.98Z" stroke="#333" stroke-width="0.6" fill="#ff0000" stroke-linejoin="round" />
<path d="M1055.60 1977.40L1109.42 1989.68A55.20 55.20 0 0 1 1098.76 2011.82Z" stroke="#333" stroke-width="0.6" fill="#00ffff" stroke-linejoin="round" />
<path d="M1100.00 2161.40L1131.07 2168.49A31.87 31.87 0 0 1 1124.92 2181.27Z" stroke="#333" stroke-width="0.6" fill="#00ffff" stroke-linejoin="round" />
<path d="M1100.00 2161.40L1076.05 2211.13A55.20 55.20 0 0 1 1056.84 2195.82Z" stroke="#333" stroke-width="0.6" fill="#ffa500" stroke-linejoin="round" />
<path d="M660.60 2320.40L703.76 2354.82A55.20 55.20 0 0 1 684.55 2370.13Z" stroke="#333" stroke-width="0.6" fill="#808080" stroke-linejoin="round" />
<path d="M911.20 2358.00L911.20 2413.20A55.20 55.20 0 0 1 887.25 2407.73Z" stroke="#333" stroke-width="0.6" fill="#ee82ee" stroke-linejoin="round" />
</g>
<text x="751.70" y="1817.80" font-size="25.7" text-anchor="middle" stroke="#000" stroke-width="0.3">PGR</text>
<text x="602.90" y="1946.60" font-size="25.7" text-anchor="middle" stroke="#000" stroke-width="0.3">PMB</text>
<text x="568.20" y="2047.90" font-size="25.7" text-anchor="middle" stroke="#000" stroke-width="0.3">CMF</text>
<text x="1010.90" y="1842.30" font-size="25.7" text-anchor="middle" stroke="#000" stroke-width="0.3">PDT</text>
<text x="1055.30" y="1985.10" font-size="25.7" text-anchor="middle" stroke="#000" stroke-width="0.3">SIN</text>
<text x="1099.70" y="2169.10" font-size="25.7" text-anchor="middle" stroke="#000" stroke-width="0.3">STP</text>
<text x="660.30" y="2328.10" font-size="25.7" text-anchor="middle" stroke="#000" stroke-width="0.3">SSP</text>
<text x="910.90" y="2365.70" font-size="25.7" text-anchor="middle" stroke="#000" stroke-width="0.3">HRP</text>
<rect x="344.5" y="1756.3" width="980.5999999999999" height="656.1000000000001" fill="none" stroke="#444" stroke-width="1"/>
<path d="M10.3 2493.7L10.3 1756.2L247.6 1756.2L247.6 2493.7" stroke="#444" stroke-width="1" fill="none" />
<path d="M129.20 1817.80L129.20 1762.30A55.50 55.50 0 0 1 153.28 1767.80Z" stroke="#333" stroke-width="0.6" fill="#4040ff" stroke-linejoin="round" />
<path d="M129.20 1817.80L153.28 1767.80A55.50 55.50 0 0 1 172.59 1783.20Z" stroke="#333" stroke-width="0.6" fill="#ff0000" stroke-linejoin="round" />
<path d="M129.20 1817.80L172.59 1783.20A55.50 55.50 0 0 1 183.31 1805.45Z" stroke="#333" stroke-width="0.6" fill="#00ff00" stroke-linejoin="round" />
<path d="M129.20 1817.80L183.31 1805.45A55.50 55.50 0 0 1 183.31 1830.15Z" stroke="#333" stroke-width="0.6" fill="#ff00ff" stroke-linejoin="round" />
<path d="M129.20 1817.80L183.31 1830.15A55.50 55.50 0 0 1 172.59 1852.40Z" stroke="#333" stroke-width="0.6" fill="#00ffff" stroke-linejoin="round" />
<path d="M129.20 1817.80L172.59 1852.40A55.50 55.50 0 0 1 153.28 1867.80Z" stroke="#333" stroke-width="0.6" fill="#808080" stroke-linejoin="round" />
<path d="M129.20 1817.80L153.28 1867.80A55.50 55.50 0 0 1 129.20 1873.30Z" stroke="#333" stroke-width="0.6" fill="#00a000" stroke-linejoin="round" />
<path d="M129.20 1817.80L129.20 1873.30A55.50 55.50 0 0 1 105.12 1867.80Z" stroke="#333" stroke-width="0.6" fill="#ee82ee" stroke-linejoin="round" />
<path d="M129.20 1817.80L105.12 1867.80A55.50 55.50 0 0 1 85.81 1852.40Z" stroke="#333" stroke-width="0.6" fill="#ffa500" stroke-linejoin="round" />
<path d="M129.20 1817.80L85.81 1852.40A55.50 55.50 0 0 1 75.09 1830.15Z" stroke="#333" stroke-width="0.6" fill="#808000" stroke-linejoin="round" />
<path d="M129.20 1817.80L75.09 1830.15A55.50 55.50 0 0 1 75.09 1805.45Z" stroke="#333" stroke-width="0.6" fill="#008080" stroke-linejoin="round" />
<path d="M129.20 1817.80L75.09 1805.45A55.50 55.50 0 0 1 85.81 1783.20Z" stroke="#333" stroke-width="0.6" fill="#aa00aa" stroke-linejoin="round" />
<path d="M129.20 1817.80L85.81 1783.20A55.50 55.50 0 0 1 105.12 1767.80Z" stroke="#333" stroke-width="0.6" fill="#4040ff" stroke-linejoin="round" />
<path d="M129.20 1817.80L105.12 1767.80A55.50 55.50 0 0 1 129.20 1762.30Z" stroke="#333" stroke-width="0.6" fill="#ff0000" stroke-linejoin="round" />
<text x="137.54" y="1786.24" font-size="16.8" text-anchor="middle" font-style="italic" stroke="#000" stroke-width="0.3">A</text>
<text x="152.58" y="1793.48" font-size="16.8" text-anchor="middle" font-style="italic" stroke="#000" stroke-width="0.3">B</text>
<text x="162.99" y="1806.53" font-size="16.8" text-anchor="middle" font-style="italic" stroke="#000" stroke-width="0.3">C</text>
<text x="166.70" y="1822.80" font-size="16.8" text-anchor="middle" font-style="italic" stroke="#000" stroke-width="0.3">D</text>
<text x="162.99" y="1839.07" font-size="16.8" text-anchor="middle" font-style="italic" stroke="#000" stroke-width="0.3">E</text>
<text x="152.58" y="1852.12" font-size="16.8" text-anchor="middle" font-style="italic" stroke="#000" stroke-width="0.3">F</text>
<text x="137.54" y="1859.36" font-size="16.8" text-anchor="middle" font-style="italic" stroke="#000" stroke-width="0.3">G</text>
<text x="120.86" y="1859.36" font-size="16.8" text-anchor="middle" font-style="italic" stroke="#000" stroke-width="0.3">H</text>
<text x="105.82" y="1852.12" font-size="16.8" text-anchor="middle" font-style="italic" stroke="#000" stroke-width="0.3">I</text>
<text x="95.41" y="1839.07" font-size="16.8" text-anchor="middle" font-style="italic" stroke="#000" stroke-width="0.3">J</text>
<text x="91.70" y="1822.80" font-size="16.8" text-anchor="middle" font-style="italic" stroke="#000" stroke-width="0.3">K</text>
<text x="95.41" y="1806.53" font-size="16.8" text-anchor="middle" font-style="italic" stroke="#000" stroke-width="0.3">L</text>
<text x="105.82" y="1793.48" font-size="16.8" text-anchor="middle" font-style="italic" stroke="#000" stroke-width="0.3">M</text>
<text x="120.86" y="1786.24" font-size="16.8" text-anchor="middle" font-style="italic" stroke="#000" stroke-width="0.3">N</text>
<text x="13.90" y="1894.80" font-size="17.65" font-style="italic" stroke="#000" stroke-width="0.3">A.</text>
<text x="40.10" y="1894.80" font-size="17.65" font-style="italic" stroke="#000" stroke-width="0.3">Synalpheus carinatus</text>
<text x="40.10" y="1916.80" font-size="17.65" font-style="italic" stroke="#000" stroke-width="0.3">0 - 4</text>
<text x="13.90" y="1938.76" font-size="17.65" font-style="italic" stroke="#000" stroke-width="0.3">B.</text>
<text x="40.10" y="1938.76" font-size="17.65" font-style="italic" stroke="#000" stroke-width="0.3">Synalpheus comaturalum</text>
<text x="40.10" y="1960.76" font-size="17.65" font-style="italic" stroke="#000" stroke-width="0.3">0 - 2</text>
<text x="13.90" y="1982.72" font-size="17.65" font-style="italic" stroke="#000" stroke-width="0.3">C.</text>
<text x="40.10" y="1982.72" font-size="17.65" font-style="italic" stroke="#000" stroke-width="0.3">Synalpheus stimpsonii</text>
<text x="40.10" y="2004.72" font-size="17.65" font-style="italic" stroke="#000" stroke-width="0.3">0 - 1</text>
<text x="13.90" y="2026.68" font-size="17.65" font-style="italic" stroke="#000" stroke-width="0.3">D.</text>
<text x="40.10" y="2026.68" font-size="17.65" font-style="italic" stroke="#000" stroke-width="0.3">Palaemonella pottsi</text>
<text x="40.10" y="2048.68" font-size="17.65" font-style="italic" stroke="#000" stroke-width="0.3">0 - 1</text>
<text x="13.90" y="2070.64" font-size="17.65" font-style="italic" stroke="#000" stroke-width="0.3">E.</text>
<text x="40.10" y="2070.64" font-size="17.65" font-style="italic" stroke="#000" stroke-width="0.3">Allogalathea elegans</text>
<text x="40.10" y="2092.64" font-size="17.65" font-style="italic" stroke="#000" stroke-width="0.3">0 - 3</text>
<text x="13.90" y="2114.60" font-size="17.65" font-style="italic" stroke="#000" stroke-width="0.3">F.</text>
<text x="40.10" y="2114.60" font-size="17.65" font-style="italic" stroke="#000" stroke-width="0.3">Allogalathea babai</text>
<text x="40.10" y="2136.60" font-size="17.65" font-style="italic" stroke="#000" stroke-width="0.3">0 - 1</text>
<text x="13.90" y="2158.56" font-size="17.65" font-style="italic" stroke="#000" stroke-width="0.3">G.</text>
<text x="40.10" y="2158.56" font-size="17.65" font-style="italic" stroke="#000" stroke-width="0.3">Pontoniopsis comanthi</text>
<text x="40.10" y="2180.56" font-size="17.65" font-style="italic" stroke="#000" stroke-width="0.3">0 - 1</text>
<text x="13.90" y="2202.52" font-size="17.65" font-style="italic" stroke="#000" stroke-width="0.3">H.</text>
<text x="40.10" y="2202.52" font-size="17.65" font-style="italic" stroke="#000" stroke-width="0.3">Laomenes nudirostris</text>
<text x="40.10" y="2224.52" font-size="17.65" font-style="italic" stroke="#000" stroke-width="0.3">0 - 1</text>
<text x="13.90" y="2246.48" font-size="17.65" font-style="italic" stroke="#000" stroke-width="0.3">I.</text>
<text x="40.10" y="2246.48" font-size="17.65" font-style="italic" stroke="#000" stroke-width="0.3">Laomenes tigris</text>
<text x="40.10" y="2268.48" font-size="17.65" font-style="italic" stroke="#000" stroke-width="0.3">0 - 1</text>
<text x="13.90" y="2290.44" font-size="17.65" font-style="italic" stroke="#000" stroke-width="0.3">J.</text>
<text x="40.10" y="2290.44" font-size="17.65" font-style="italic" stroke="#000" stroke-width="0.3">Periclimenes affinis</text>
<text x="40.10" y="2312.44" font-size="17.65" font-style="italic" stroke="#000" stroke-width="0.3">0 - 4</text>
<text x="13.90" y="2334.40" font-size="17.65" font-style="italic" stroke="#000" stroke-width="0.3">K.</text>
<text x="40.10" y="2334.40" font-size="17.65" font-style="italic" stroke="#000" stroke-width="0.3">Periclimenes pitti</text>
<text x="40.10" y="2356.40" font-size="17.65" font-style="italic" stroke="#000" stroke-width="0.3">0 - 2</text>
<text x="13.90" y="2378.36" font-size="17.65" font-style="italic" stroke="#000" stroke-width="0.3">L.</text>
<text x="40.10" y="2378.36" font-size="17.65" font-style="italic" stroke="#000" stroke-width="0.3">Cuapetes seychellensis</text>
<text x="40.10" y="2400.36" font-size="17.65" font-style="italic" stroke="#000" stroke-width="0.3">0 - 1</text>
<text x="13.90" y="2422.32" font-size="17.65" font-style="italic" stroke="#000" stroke-width="0.3">M.</text>
<text x="40.10" y="2422.32" font-size="17.65" font-style="italic" stroke="#000" stroke-width="0.3">Permanotus purpureus</text>
<text x="40.10" y="2444.32" font-size="17.65" font-style="italic" stroke="#000" stroke-width="0.3">0 - 1</text>
<text x="13.90" y="2466.28" font-size="17.65" font-style="italic" stroke="#000" stroke-width="0.3">N.</text>
<text x="40.10" y="2466.28" font-size="17.65" font-style="italic" stroke="#000" stroke-width="0.3">Aliaporcellana pygmaea</text>
<text x="40.10" y="2488.28" font-size="17.65" font-style="italic" stroke="#000" stroke-width="0.3">0 - 1</text>
</g>
</svg>
</body></html>
